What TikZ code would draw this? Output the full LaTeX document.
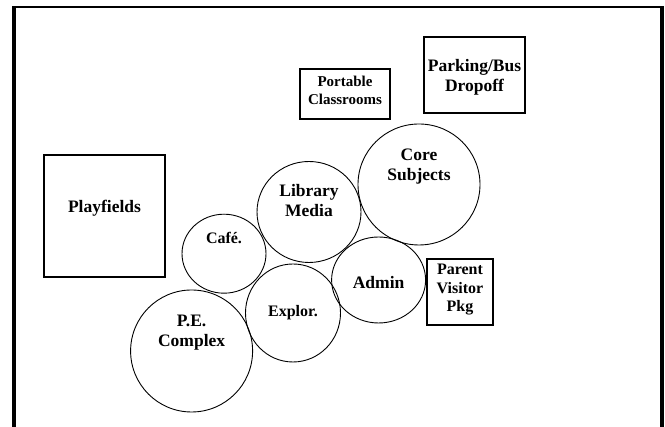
\documentclass[tikz,border=0pt]{standalone}
\usepackage{fontspec}
\setmainfont{Liberation Serif}
\usetikzlibrary{shapes.geometric}
\newcommand{\RBig}{\fontsize{17.5}{20}\selectfont\bfseries}
\newcommand{\RMid}{\fontsize{16}{18.5}\selectfont\bfseries}
\newcommand{\RSmall}{\fontsize{15}{18}\selectfont\bfseries}

\begin{document}
\begin{tikzpicture}[x=1pt, y=1pt,
  room/.style={ellipse, draw, line width=0.9pt, inner sep=0pt},
  area/.style={rectangle, draw, line width=1.1pt, inner sep=0pt},
  roomtext/.style={align=center, inner sep=0pt}
]
\useasboundingbox (0,0) rectangle (665,427);

% Site frame, open at the bottom.
\draw[line width=4pt] (14,-5) -- (14,421.2);
\draw[line width=4pt] (662,-5) -- (662,421.2);
\draw[line width=2.4pt] (12,420) -- (664,420);

% Outdoor areas and parking.
\node[area, minimum width=121, minimum height=122,
  label={[roomtext, font=\RBig, yshift=8]center:Playfields}]
  (playfields) at (104.5,211) {};
\node[area, minimum width=90, minimum height=50,
  label={[roomtext, font=\RSmall, yshift=4]center:Portable\\Classrooms}]
  (portable) at (345,333) {};
\node[area, minimum width=101, minimum height=76,
  label={[roomtext, font=\RBig, yshift=-2]center:Parking/Bus\\Dropoff}]
  (parking) at (474.5,352) {};
\node[area, minimum width=66, minimum height=66,
  label={[roomtext, font=\RMid, yshift=2]center:Parent\\Visitor\\Pkg}]
  (parent) at (460,135) {};

% Building zones.
\node[room, minimum width=122, minimum height=121,
  label={[roomtext, font=\RBig, yshift=18]center:Core\\Subjects}]
  (core) at (419,242.5) {};
\node[room, minimum width=104, minimum height=101,
  label={[roomtext, font=\RBig, yshift=11]center:Library\\Media}]
  (library) at (309,215) {};
\node[room, minimum width=84, minimum height=79,
  label={[roomtext, font=\RMid, yshift=16]center:Café.}]
  (cafe) at (224,173.3) {};
\node[room, minimum width=94, minimum height=86,
  label={[roomtext, font=\RBig, yshift=-3]center:Admin}]
  (admin) at (378.6,147) {};
\node[room, minimum width=95, minimum height=98,
  label={[roomtext, font=\RMid]center:Explor.}]
  (explor) at (293,114) {};
\node[room, minimum width=122, minimum height=122,
  label={[roomtext, font=\RBig, yshift=18]center:P.E.\\Complex}]
  (pe) at (191.6,76) {};
\end{tikzpicture}
\end{document}
